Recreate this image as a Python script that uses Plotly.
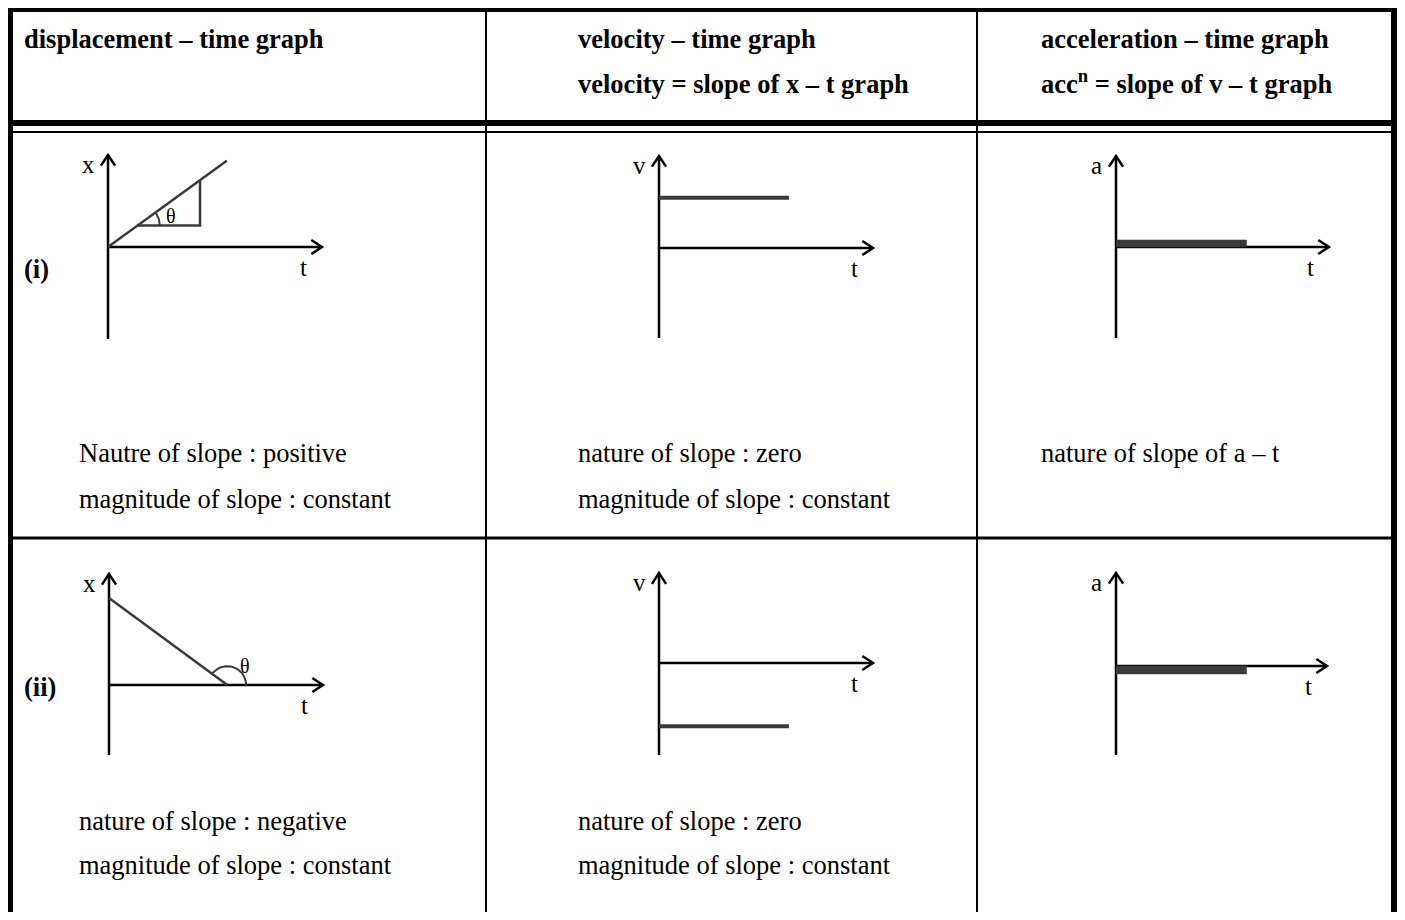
import numpy as np
import plotly.graph_objects as go

W, H = 1405, 920
PAGE = 8  # default body margin of the html page
S = 21.4  # px per graph unit, same scale both ways
SERIF = "Liberation Serif"
INK = "#000000"
GRAY = "#3a3a3a"

# ---- table text ----
header_lines = [
    ["displacement – time graph"],
    ["velocity – time graph", "velocity = slope of x – t graph"],
    ["acceleration – time graph", "acc<sup>n</sup> = slope of v – t graph"],
]
row_labels = ["(i)", "(ii)"]
notes = [
    [
        ["Nautre of slope : positive", "magnitude of slope : constant"],
        ["nature of slope : zero", "magnitude of slope : constant"],
        ["nature of slope of a – t"],
    ],
    [
        ["nature of slope : negative", "magnitude of slope : constant"],
        ["nature of slope : zero", "magnitude of slope : constant"],
        [],
    ],
]

# ---- mini graphs, in graph units (t along, value up) ----
axis_names = ["x", "v", "a", "x", "v", "a"]
t_end = [10.0, 10.0, 9.95, 10.0, 10.0, 9.86]
v_up = [4.3, 4.3, 4.25, 5.19, 4.2, 4.35]
v_down = [4.3, 4.2, 4.25, 3.27, 4.3, 4.16]

xt_i_t = [0, 5.55]
xt_i_x = [0, 4.03]
xt_i_tri_t = [1.37, 4.3, 4.3]
xt_i_tri_x = [1.0, 1.0, 3.1]
xt_ii_t = [0, 5.53]
xt_ii_x = [4.07, 0]
vt_i_t = [0, 6.07]
vt_i_v = [2.35, 2.35]
vt_ii_t = [0, 6.07]
vt_ii_v = [-2.96, -2.96]
at_i_t = [0, 6.1]
at_i_a = [0.33, 0.33]
at_ii_t = [0, 6.1]
at_ii_a = [-0.37, -0.37]

# ---- layout positions (page px) ----
origins = [(108, 247), (659, 248), (1116, 247), (109, 685), (659, 663), (1116, 666)]
T_RANGE = [-1.6, 11.0]
V_RANGE = [-5.8, 5.8]
header_x = [22, 576, 1039]
header_y = [39, 84]
note_x = [77, 576, 1039]
note_y = [[453, 499], [821, 865]]
row_label_y = [269, 687]

FW, FH = W - 2 * PAGE, H - 2 * PAGE
fig = go.Figure()
layout = dict(
    width=FW, height=FH, margin=dict(l=0, r=0, t=0, b=0),
    paper_bgcolor="white", plot_bgcolor="rgba(0,0,0,0)", showlegend=False,
    xaxis=dict(range=[PAGE, PAGE + FW], visible=False, fixedrange=True, domain=[0, 1]),
    yaxis=dict(range=[PAGE + FH, PAGE], visible=False, fixedrange=True, domain=[0, 1]),
)

for i, (ox, oy) in enumerate(origins):
    n = i + 2
    x0 = (ox - PAGE + T_RANGE[0] * S) / FW
    x1 = (ox - PAGE + T_RANGE[1] * S) / FW
    y0 = 1 - (oy - PAGE - V_RANGE[0] * S) / FH
    y1 = 1 - (oy - PAGE - V_RANGE[1] * S) / FH
    layout[f"xaxis{n}"] = dict(domain=[x0, x1], range=T_RANGE, visible=False,
                               fixedrange=True, anchor=f"y{n}")
    layout[f"yaxis{n}"] = dict(domain=[y0, y1], range=V_RANGE, visible=False,
                               fixedrange=True, anchor=f"x{n}")
fig.update_layout(**layout)


def add_line(n, xs, ys, color=INK, width=2.5, **kw):
    fig.add_trace(go.Scatter(x=xs, y=ys, mode="lines", xaxis=f"x{n}", yaxis=f"y{n}",
                             line=dict(color=color, width=width), hoverinfo="skip", **kw))


annotations = []


def label(n, x, y, text, size=25):
    annotations.append(dict(x=x, y=y, xref=f"x{n}", yref=f"y{n}", text=text, showarrow=False,
                            font=dict(family=SERIF, size=size, color=INK)))


# axes with open arrowheads
for i in range(6):
    n = i + 2
    add_line(n, [0, 0], [-v_down[i], v_up[i]])
    add_line(n, [0, t_end[i]], [0, 0])
    add_line(n, [-0.33, 0, 0.33], [v_up[i] - 0.5, v_up[i], v_up[i] - 0.5])
    add_line(n, [t_end[i] - 0.5, t_end[i], t_end[i] - 0.5], [0.33, 0, -0.33])
    label(n, -0.9, v_up[i] - 0.45, axis_names[i])
    label(n, t_end[i] - 0.85, -0.95, "t")

# x-t (i): positive slope with triangle and angle
add_line(2, xt_i_t, xt_i_x, color=GRAY)
add_line(2, xt_i_tri_t, xt_i_tri_x, color=GRAY)
ang = np.linspace(0, np.arctan2(xt_i_x[1] - xt_i_x[0], xt_i_t[1] - xt_i_t[0]), 20)
add_line(2, xt_i_tri_t[0] + 1.05 * np.cos(ang), xt_i_tri_x[0] + 1.05 * np.sin(ang),
         color=GRAY, width=2)
label(2, 2.94, 1.45, "θ", size=20)

# x-t (ii): negative slope and obtuse angle
add_line(5, xt_ii_t, xt_ii_x, color=GRAY)
ang = np.linspace(0, np.pi - np.arctan2(xt_ii_x[0], xt_ii_t[1]), 30)
add_line(5, xt_ii_t[1] + 0.88 * np.cos(ang), 0.88 * np.sin(ang), color=GRAY, width=2)
label(5, 6.34, 0.89, "θ", size=20)

# v-t lines
add_line(3, vt_i_t, vt_i_v, color=GRAY, width=4)
add_line(6, vt_ii_t, vt_ii_v, color=GRAY, width=4)

# a-t thick bars
for n, ts, vals in [(4, at_i_t, at_i_a), (7, at_ii_t, at_ii_a)]:
    fig.add_trace(go.Scatter(x=[ts[0], ts[1], ts[1], ts[0]], y=[0, 0, vals[1], vals[0]],
                             mode="lines", fill="toself", fillcolor=GRAY,
                             line=dict(color=GRAY, width=0.5), xaxis=f"x{n}", yaxis=f"y{n}",
                             hoverinfo="skip"))

# ---- table frame ----
frame = [
    (8, 10, 1397, 10, 4), (10.5, 8, 10.5, H, 5), (1394, 8, 1394, H, 6),
    (486, 8, 486, H, 2), (977, 8, 977, H, 2),
    (8, 123, 1397, 123, 6), (8, 132, 1397, 132, 2), (8, 538, 1397, 538, 3),
]
for xa, ya, xb, yb, w in frame:
    fig.add_shape(type="line", x0=xa, y0=ya, x1=xb, y1=yb, xref="x", yref="y",
                  line=dict(color=INK, width=w), layer="above")


def text(x, y, s, bold=False):
    if "<sup>" in s:
        y -= 2
    annotations.append(dict(x=x, y=y, xref="x", yref="y", xanchor="left", yanchor="middle",
                            showarrow=False, text=s,
                            font=dict(family=SERIF, size=26.5, color=INK,
                                      weight="bold" if bold else "normal")))


for c, lines in enumerate(header_lines):
    for k, s in enumerate(lines):
        text(header_x[c], header_y[k], s, bold=True)
for r, lab in enumerate(row_labels):
    text(22, row_label_y[r], lab, bold=True)
for r, row in enumerate(notes):
    for c, lines in enumerate(row):
        for k, s in enumerate(lines):
            text(note_x[c], note_y[r][k], s)

fig.update_layout(annotations=annotations)
fig.write_html("out.html")
